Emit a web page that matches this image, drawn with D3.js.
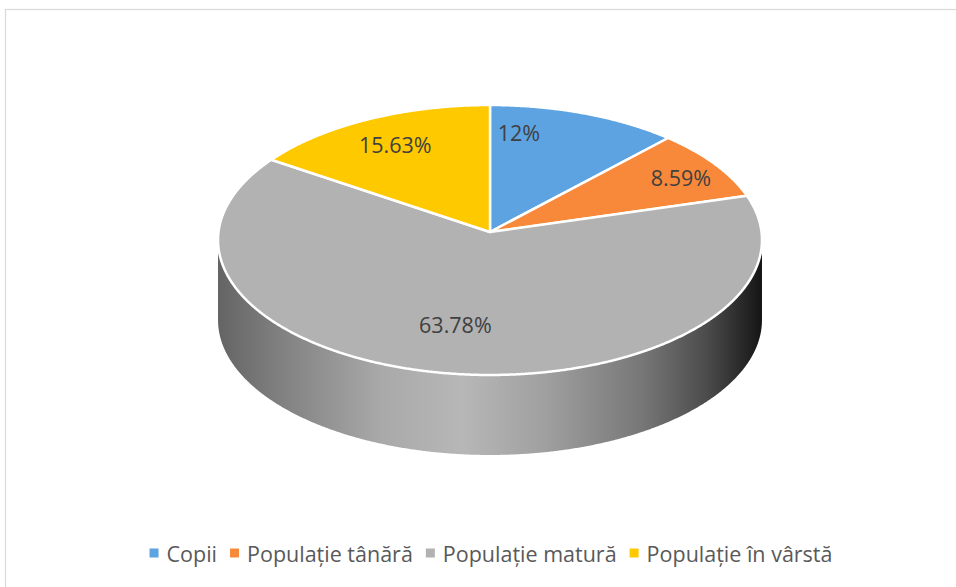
<!DOCTYPE html>
<html><head><meta charset="utf-8">
<script src="https://cdn.jsdelivr.net/npm/d3@7/dist/d3.min.js"></script>
<style>html,body{margin:0;padding:0;background:#fff;}svg{display:block;}</style>
</head><body>
<svg id="c" width="956" height="587"></svg>
<script>
// ---- data ----
const categories = ["Copii", "Populație tânără", "Populație matură", "Populație în vârstă"];
const values = [12, 8.59, 63.78, 15.63];
const valueLabels = ["12%", "8.59%", "63.78%", "15.63%"];
const colors = ["#5DA3E2", "#F8893A", "#B2B2B2", "#FFC900"];

// ---- layout ----
const W = 956, H = 587;
const cx = 490, apexY = 232, A = 271.5, B = 134.5, K = 0.0593, depth = 80;
const labelPlace = [{f: 0.19, r: 0.78}, {f: 0.55, r: 0.83}, {f: 0.507, r: 0.67}, {f: 0.5, r: 0.77}];

const svg = d3.select("#c");
svg.append("rect").attr("x", 5.5).attr("y", 9.5).attr("width", 1000).attr("height", 700)
  .attr("fill", "#fff").attr("stroke", "#d9d9d9").attr("stroke-width", 1.2);

function proj(t, r = 1, dz = 0) {
  const u = r * Math.sin(t), v = -r * Math.cos(t);
  const w = 1 - K * v;
  return [cx + A * u / w, apexY + B * v / w + dz];
}

const pie = d3.pie().sort(null).value(d => d).startAngle(0).endAngle(2 * Math.PI);
const arcs = pie(values);

function samples(a0, a1) {
  const n = Math.max(2, Math.ceil((a1 - a0) / 0.005));
  return d3.range(n + 1).map(i => a0 + (a1 - a0) * i / n);
}

// extreme x parameters
let tR = 0, tL = 0, maxX = -1e9, minX = 1e9;
for (let i = 0; i <= 20000; i++) {
  const t = 2 * Math.PI * i / 20000; const p = proj(t);
  if (p[0] > maxX) { maxX = p[0]; tR = t; }
  if (p[0] < minX) { minX = p[0]; tL = t; }
}

const defs = svg.append("defs");
const shade = [[0, 0.56], [0.1, 0.7], [0.3, 0.95], [0.45, 1.03], [0.6, 0.9], [0.78, 0.67], [0.9, 0.42], [1, 0.12]];
colors.forEach((c, i) => {
  const g = defs.append("linearGradient").attr("id", "side" + i)
    .attr("gradientUnits", "userSpaceOnUse")
    .attr("x1", minX).attr("x2", maxX).attr("y1", 0).attr("y2", 0);
  const base = d3.rgb(c);
  shade.forEach(([o, m]) => {
    g.append("stop").attr("offset", o)
      .attr("stop-color", d3.rgb(Math.min(255, base.r * m), Math.min(255, base.g * m), Math.min(255, base.b * m)).formatHex());
  });
});

const line = d3.line();
// sides
arcs.forEach((a, i) => {
  const s0 = Math.max(a.startAngle, tR), s1 = Math.min(a.endAngle, tL);
  if (s1 <= s0) return;
  const ts = samples(s0, s1);
  const top = ts.map(t => proj(t));
  const bot = ts.slice().reverse().map(t => proj(t, 1, depth));
  svg.append("path").attr("d", line(top.concat(bot)) + "Z")
    .attr("fill", `url(#side${i})`);
});

// tops
arcs.forEach((a, i) => {
  const pts = [[cx, apexY]].concat(samples(a.startAngle, a.endAngle).map(t => proj(t)));
  svg.append("path").attr("d", line(pts) + "Z")
    .attr("fill", colors[i]).attr("stroke", "#fff").attr("stroke-width", 2.5)
    .attr("stroke-linejoin", "round");
});

// labels
arcs.forEach((a, i) => {
  const lp = labelPlace[i];
  const t = a.startAngle + (a.endAngle - a.startAngle) * lp.f;
  const p = proj(t, lp.r);
  svg.append("text").attr("x", p[0]).attr("y", p[1])
    .attr("text-anchor", "middle").attr("dominant-baseline", "central")
    .attr("font-family", "Open Sans").attr("font-size", 21.5).attr("fill", "#404040")
    .text(valueLabels[i]);
});

// legend
const lg = svg.append("g");
let x = 0;
categories.forEach((c, i) => {
  const g = lg.append("g");
  g.append("rect").attr("x", x).attr("y", -4.5).attr("width", 9).attr("height", 9).attr("fill", colors[i]);
  const tx = g.append("text").attr("x", x + 17).attr("y", 0).attr("dominant-baseline", "central")
    .attr("font-family", "Open Sans").attr("font-size", 21.5).attr("fill", "#595959").text(c);
  x += 17 + tx.node().getComputedTextLength() + 13;
});
const total = x - 13;
lg.attr("transform", `translate(${491 - total / 2},553)`);
</script>
</body></html>
